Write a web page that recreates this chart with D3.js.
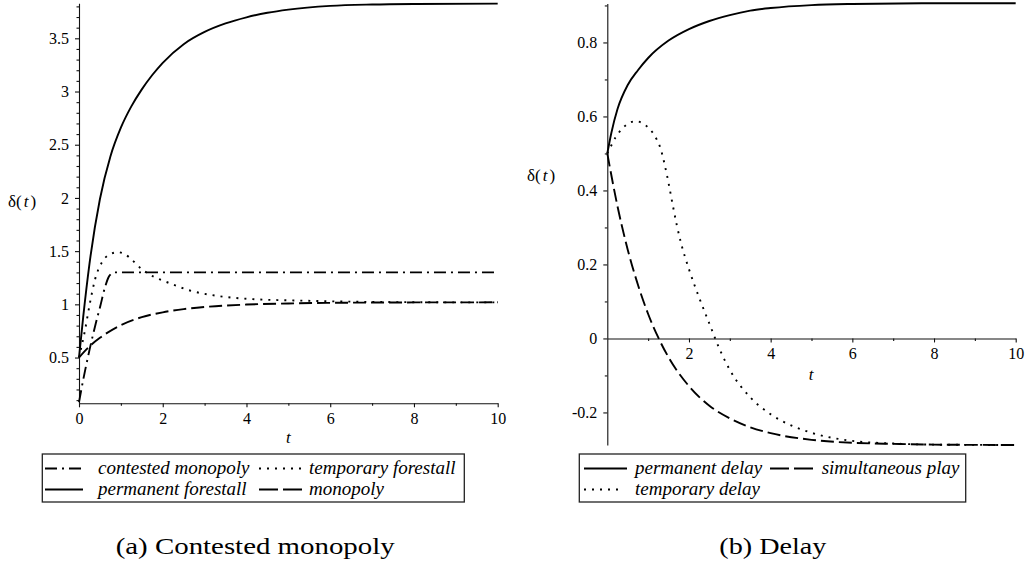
<!DOCTYPE html>
<html><head><meta charset="utf-8">
<script src="https://cdn.jsdelivr.net/npm/d3@7"></script>
<style>
html,body{margin:0;padding:0;background:#fff;}
svg{display:block;}
text{font-family:"Liberation Serif","Times New Roman",serif;fill:#000;}
</style></head>
<body>
<svg id="chart" width="1029" height="568"></svg>
<script>
// ---------------- DATA ----------------
// Panel (a) Contested monopoly
const tContested = [0, 0.1, 0.25, 0.4, 0.5, 0.62, 0.7, 0.78, 0.84, 2, 4, 6, 8, 10];
const vContested = [0.08, 0.29, 0.57, 0.82, 0.97, 1.16, 1.25, 1.29, 1.3, 1.3, 1.3, 1.3, 1.3, 1.3];
const tTempForestall = [0, 0.14, 0.26, 0.38, 0.54, 0.74, 0.94, 1.1, 1.26, 1.5, 1.78, 2.09, 2.65, 3.29, 4.08, 5.3, 6.5, 8, 10];
const vTempForestall = [0.5, 0.75, 1.01, 1.23, 1.39, 1.47, 1.49, 1.47, 1.42, 1.33, 1.26, 1.21, 1.13, 1.08, 1.05, 1.035, 1.025, 1.02, 1.018];
const tPermForestall = [0, 0.1, 0.25, 0.5, 0.75, 1, 1.25, 1.5, 1.75, 2, 2.5, 3, 3.5, 4, 4.5, 5, 6, 7, 8, 10];
const vPermForestall = [0.5, 0.88, 1.38, 1.99, 2.39, 2.66, 2.86, 3.02, 3.155, 3.27, 3.445, 3.56, 3.64, 3.697, 3.74, 3.77, 3.805, 3.818, 3.823, 3.826];
const tMonopoly = [0, 0.25, 0.5, 1, 1.5, 2, 2.5, 3, 4, 5, 6, 8, 10];
const vMonopoly = [0.5, 0.605, 0.685, 0.805, 0.88, 0.925, 0.955, 0.975, 0.998, 1.008, 1.014, 1.018, 1.019];

// Panel (b) Delay
const tPermDelay = [0, 0.1, 0.25, 0.5, 0.75, 1, 1.5, 2, 2.5, 3, 3.5, 4, 5, 6, 8, 10];
const vPermDelay = [0.5, 0.556, 0.62, 0.685, 0.725, 0.758, 0.805, 0.836, 0.858, 0.874, 0.886, 0.893, 0.901, 0.904, 0.906, 0.906];
const tSimPlay = [0, 0.25, 0.5, 0.75, 1, 1.25, 1.5, 2, 2.5, 3, 3.5, 4, 5, 6, 7, 8, 10];
const vSimPlay = [0.5, 0.357, 0.24, 0.145, 0.066, 0.002, -0.051, -0.129, -0.182, -0.216, -0.24, -0.256, -0.274, -0.282, -0.285, -0.287, -0.288];
const tTempDelay = [0, 0.1, 0.2, 0.35, 0.5, 0.7, 0.9, 1.1, 1.2, 1.3, 1.4, 1.5, 1.6, 1.7, 1.8, 2, 2.25, 2.5, 2.75, 3, 3.5, 4, 4.5, 5, 6, 7, 8, 10];
const vTempDelay = [0.5, 0.522, 0.543, 0.565, 0.58, 0.587, 0.579, 0.558, 0.54, 0.515, 0.472, 0.42, 0.362, 0.307, 0.26, 0.187, 0.11, 0.04, -0.029, -0.085, -0.159, -0.205, -0.235, -0.255, -0.277, -0.284, -0.287, -0.288];

// Ticks
const xMajor = [0, 2, 4, 6, 8, 10];
const xMinor = [1, 3, 5, 7, 9];
const xLabelsA = ["0", "2", "4", "6", "8", "10"];
const xMajorB = [2, 4, 6, 8, 10];
const xLabelsB = ["2", "4", "6", "8", "10"];
const yMajorA = [0.5, 1, 1.5, 2, 2.5, 3, 3.5];
const yLabelsA = ["0.5", "1", "1.5", "2", "2.5", "3", "3.5"];
const yMinorA = [0.1, 0.2, 0.3, 0.4, 0.6, 0.7, 0.8, 0.9, 1.1, 1.2, 1.3, 1.4, 1.6, 1.7, 1.8, 1.9, 2.1, 2.2, 2.3, 2.4, 2.6, 2.7, 2.8, 2.9, 3.1, 3.2, 3.3, 3.4, 3.6, 3.7, 3.8];
const yMajorB = [-0.2, 0, 0.2, 0.4, 0.6, 0.8];
const yLabelsB = ["-0.2", "0", "0.2", "0.4", "0.6", "0.8"];
const yMinorB = [-0.1, 0.1, 0.3, 0.5, 0.7, 0.9];

// Legends / captions
const legendA = ["contested monopoly", "temporary forestall", "permanent forestall", "monopoly"];
const legendB = ["permanent delay", "simultaneous play", "temporary delay"];
const captionA = "(a) Contested monopoly";
const captionB = "(b) Delay";

// ---------------- DRAW ----------------
const FONT = "'Liberation Serif', 'Times New Roman', Times, serif";
const svg = d3.select("#chart");
svg.append("rect").attr("width", 1029).attr("height", 568).attr("fill", "#fff");

const zip = (ts, vs) => ts.map((t, i) => [t, vs[i]]);

const STY = {
  solid: null,
  dash: "13,5",
  dot: "2,6",
  dashdot: "12,5,2,5"
};

function drawAxes(x, y, xAxisY, xTicks, xLabels, yTicks, yLabels, yMinor) {
  const gx = svg.append("g").attr("transform", `translate(0,${xAxisY})`);
  gx.call(d3.axisBottom(x).tickValues(xTicks).tickFormat((d, i) => xLabels[i]).tickSize(4).tickSizeOuter(0).tickPadding(5.5));
  const gxm = svg.append("g").attr("transform", `translate(0,${xAxisY})`);
  gxm.call(d3.axisBottom(x).tickValues(xMinor).tickFormat("").tickSize(2.5).tickSizeOuter(0));
  gxm.select(".domain").remove();

  const gy = svg.append("g").attr("transform", `translate(${x(0)},0)`);
  gy.call(d3.axisLeft(y).tickValues(yTicks).tickFormat((d, i) => yLabels[i]).tickSize(4).tickSizeOuter(0).tickPadding(6));
  const gym = svg.append("g").attr("transform", `translate(${x(0)},0)`);
  gym.call(d3.axisLeft(y).tickValues(yMinor).tickFormat("").tickSize(2.5).tickSizeOuter(0));
  gym.select(".domain").remove();

  [gx, gxm, gy, gym].forEach(g => {
    g.attr("font-family", FONT);
    g.selectAll("path,line").attr("stroke", "#111").attr("stroke-width", 1.1);
    g.selectAll("text").style("font-family", FONT).style("font-size", "16px").attr("fill", "#000");
  });
}

function drawSeries(x, y, data, dash) {
  const line = d3.line().x(d => x(d[0])).y(d => y(d[1])).curve(d3.curveMonotoneX);
  svg.append("path").attr("d", line(data)).attr("fill", "none")
    .attr("stroke", "#000").attr("stroke-width", 1.9)
    .attr("stroke-dasharray", dash);
}

function yLabel(xp, yp) {
  const t = svg.append("text").attr("x", xp).attr("y", yp).style("font-family", FONT).style("font-size", "17px");
  t.append("tspan").text("δ(");
  t.append("tspan").attr("dx", 2).style("font-style", "italic").text("t");
  t.append("tspan").attr("dx", 2).text(")");
}

function legendItem(x0, x1, yc, dash, label, tx) {
  svg.append("line").attr("x1", x0).attr("x2", x1).attr("y1", yc).attr("y2", yc)
    .attr("stroke", "#000").attr("stroke-width", 1.9).attr("stroke-dasharray", dash);
  svg.append("text").attr("x", tx).attr("y", yc + 5.5).style("font-family", FONT)
    .style("font-style", "italic").style("font-size", "19px").text(label);
}

// Panel A
const xA = d3.scaleLinear().domain([0, 10]).range([79, 497.7]);
const yA = d3.scaleLinear().domain([0.07, 3.829]).range([403.3, 3.3]);
drawAxes(xA, yA, 403.3, xMajor, xLabelsA, yMajorA, yLabelsA, yMinorA);
drawSeries(xA, yA, zip(tMonopoly, vMonopoly), STY.dash);
drawSeries(xA, yA, zip(tTempForestall, vTempForestall), STY.dot);
drawSeries(xA, yA, zip(tContested, vContested), STY.dashdot);
drawSeries(xA, yA, zip(tPermForestall, vPermForestall), STY.solid);
svg.append("text").attr("x", 288.3).attr("y", 443).attr("text-anchor", "middle").style("font-family", FONT)
  .style("font-style", "italic").style("font-size", "17px").text("t");
yLabel(8, 207);

// Panel B
const xB = d3.scaleLinear().domain([0, 10]).range([607.3, 1015.7]);
const yB = d3.scaleLinear().domain([-0.288, 0.905]).range([445, 3.6]);
drawAxes(xB, yB, yB(0), xMajorB, xLabelsB, yMajorB, yLabelsB, yMinorB);
drawSeries(xB, yB, zip(tSimPlay, vSimPlay), STY.dash);
drawSeries(xB, yB, zip(tTempDelay, vTempDelay), STY.dot);
drawSeries(xB, yB, zip(tPermDelay, vPermDelay), STY.solid);
svg.append("text").attr("x", 811).attr("y", 380).attr("text-anchor", "middle").style("font-family", FONT)
  .style("font-style", "italic").style("font-size", "17px").text("t");
yLabel(527, 181);

// Legend A
svg.append("rect").attr("x", 42.3).attr("y", 454).attr("width", 422).attr("height", 48)
  .attr("fill", "none").attr("stroke", "#222").attr("stroke-width", 1.3);
legendItem(45, 81, 468.5, STY.dashdot, legendA[0], 98);
legendItem(259, 302, 468.5, STY.dot, legendA[1], 309);
legendItem(45, 83, 489.5, STY.solid, legendA[2], 98);
legendItem(259, 303, 489.5, "19,5", legendA[3], 309);

// Legend B
svg.append("rect").attr("x", 579.3).attr("y", 454).attr("width", 386.4).attr("height", 48)
  .attr("fill", "none").attr("stroke", "#222").attr("stroke-width", 1.3);
legendItem(584, 627, 468.5, STY.solid, legendB[0], 635);
legendItem(770, 813, 468.5, "19,5", legendB[1], 821.7);
legendItem(584, 624, 489.5, STY.dot, legendB[2], 635);

// Captions
svg.append("text").attr("x", 115.7).attr("y", 554).style("font-family", FONT).style("font-size", "24px")
  .attr("textLength", 279).attr("lengthAdjust", "spacingAndGlyphs").text(captionA);
svg.append("text").attr("x", 719.3).attr("y", 554).style("font-family", FONT).style("font-size", "24px")
  .attr("textLength", 107).attr("lengthAdjust", "spacingAndGlyphs").text(captionB);
</script>
</body></html>
